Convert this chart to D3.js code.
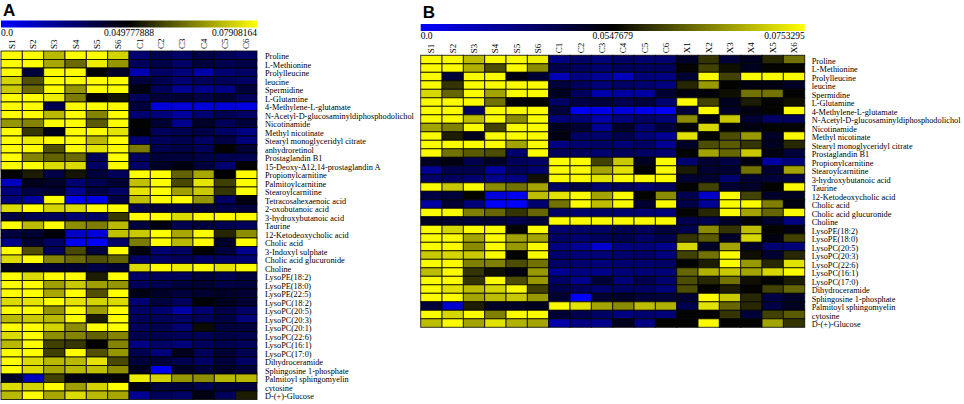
<!DOCTYPE html>
<html lang="en">
<head>
<meta charset="UTF-8">
<title>Metabolite heatmaps</title>
<script src="https://d3js.org/d3.v7.min.js"></script>
<style>
  body { margin: 0; background: #fff; }
  .lbl text { font-family: "Liberation Serif", "Times New Roman", serif; fill: #000; }
  .panel-letter { font-family: "Liberation Sans", Arial, sans-serif; font-weight: bold; font-size: 17px; }
</style>
</head>
<body>
<svg id="chart" width="964" height="404"></svg>
<script>
// ---- panel A data (cell values in 1e-3 units) ----
const colsA = ["S1", "S2", "S3", "S4", "S5", "S6", "C1", "C2", "C3", "C4", "C5", "C6"];
const rowsA = ["Proline", "L-Methionine", "Prolylleucine", "leucine", "Spermidine", "L-Glutamine",
  "4-Methylene-L-glutamate", "N-Acetyl-D-glucosaminyldiphosphodolichol", "Nicotinamide", "Methyl nicotinate",
  "Stearyl monoglyceridyl citrate", "anhydroretinol", "Prostaglandin B1", "15-Deoxy-\u039412,14-prostaglandin A",
  "Propionylcarnitine", "Palmitoylcarnitine", "Stearoylcarnitine", "Tetracosahexaenoic acid", "2-oxobutanoic acid",
  "3-hydroxybutanoic acid", "Taurine", "12-Ketodeoxycholic acid", "Cholic acid", "3-Indoxyl sulphate",
  "Cholic acid glucuronide", "Choline", "LysoPE(18:2)", "LysoPE(18:0)", "LysoPE(22:5)", "LysoPC(18:2)",
  "LysoPC(20:5)", "LysoPC(20:3)", "LysoPC(20:1)", "LysoPC(22:6)", "LysoPC(16:1)", "LysoPC(17:0)",
  "Dihydroceramide", "Sphingosine 1-phosphate", "Palmitoyl sphingomyelin", "cytosine", "D-(+)-Glucose"];
const valuesA = [
  [79,79,71,79,79,74,28,34,30,36,32,30],
  [79,79,69,62,77,67,32,36,30,38,34,36],
  [79,38,79,79,50,42,15,30,26,17,28,30],
  [74,59,79,79,79,79,38,34,28,32,32,30],
  [73,62,79,67,79,79,46,32,21,22,24,38],
  [79,79,77,64,50,52,32,38,40,36,40,32],
  [79,79,34,79,79,79,38,7,7,7,7,5],
  [79,79,71,79,65,79,28,26,19,28,34,30],
  [67,65,79,79,60,79,50,40,22,42,32,38],
  [79,56,44,79,79,76,48,32,34,36,30,24],
  [79,77,79,79,71,79,28,32,34,30,36,26],
  [79,79,59,79,76,79,64,34,36,32,50,40],
  [79,65,61,62,32,79,32,38,38,36,34,34],
  [79,79,75,75,30,79,30,42,46,38,28,50],
  [50,53,36,52,38,32,79,79,61,69,49,79],
  [13,44,42,28,34,40,72,79,58,76,57,79],
  [26,36,40,22,36,30,76,79,68,73,56,79],
  [26,19,79,3,5,36,72,79,79,67,30,46],
  [75,79,74,75,79,79,34,38,36,38,36,38],
  [36,34,32,28,30,56,79,79,75,79,79,79],
  [79,71,79,66,64,71,38,46,34,38,34,32],
  [38,40,48,11,7,72,73,79,69,79,54,66],
  [24,40,30,3,1,30,64,79,71,79,42,79],
  [79,59,32,58,38,79,47,28,30,50,38,22],
  [75,79,65,62,59,61,30,30,32,30,30,28],
  [44,42,40,40,36,40,75,79,77,79,76,79],
  [79,75,79,79,53,79,30,32,32,38,34,38],
  [79,79,68,73,68,67,32,34,38,40,36,38],
  [79,79,69,79,59,79,46,42,38,40,42,40],
  [75,76,79,76,74,75,28,38,32,50,44,40],
  [79,79,67,79,68,79,30,28,17,28,36,30],
  [71,73,71,79,53,79,32,32,30,32,36,26],
  [79,79,74,66,79,79,32,34,28,51,38,38],
  [75,79,66,65,61,65,34,34,32,32,36,34],
  [71,79,57,56,50,65,24,30,26,32,34,32],
  [79,79,57,79,59,67,34,26,44,32,40,34],
  [79,75,71,71,76,58,38,38,34,30,38,30],
  [79,75,69,71,72,66,44,3,42,38,42,38],
  [42,13,57,46,46,50,77,74,67,66,71,71],
  [75,74,79,68,74,79,46,38,38,34,38,38],
  [71,79,69,75,71,69,21,32,30,46,32,53]
];
const ticksA = [0, 0.049777888, 0.07908164];
const tickLabelsA = ["0.0", "0.049777888", "0.07908164"];

// ---- panel B data (cell values in 1e-3 units) ----
const colsB = ["S1", "S2", "S3", "S4", "S5", "S6", "C1", "C2", "C3", "C4", "C5", "C6",
  "X1", "X2", "X3", "X4", "X5", "X6"];
const rowsB = ["Proline", "L-Methionine", "Prolylleucine", "leucine", "Spermidine", "L-Glutamine",
  "4-Methylene-L-glutamate", "N-Acetyl-D-glucosaminyldiphosphodolichol", "Nicotinamide", "Methyl nicotinate",
  "Stearyl monoglyceridyl citrate", "Prostaglandin B1", "Propionylcarnitine", "Stearoylcarnitine",
  "3-hydroxybutanoic acid", "Taurine", "12-Ketodeoxycholic acid", "Cholic acid", "Cholic acid glucuronide",
  "Choline", "LysoPE(18:2)", "LysoPE(18:0)", "LysoPC(20:5)", "LysoPC(20:3)", "LysoPC(22:6)", "LysoPC(16:1)",
  "LysoPC(17:0)", "Dihydroceramide", "Sphingosine 1-phosphate", "Palmitoyl sphingomyelin", "cytosine",
  "D-(+)-Glucose"];
const valuesB = [
  [75,75,70,75,75,74,27,33,29,33,31,31,46,59,42,48,58,64],
  [75,75,69,61,75,66,38,35,31,35,35,35,55,60,56,48,55,55],
  [75,42,75,75,51,44,16,27,23,14,29,27,44,75,60,75,75,75],
  [75,59,75,75,75,75,42,35,29,33,31,27,58,67,55,51,51,46],
  [72,63,75,68,75,75,48,35,18,20,20,44,51,53,56,64,64,55],
  [75,75,75,64,53,55,33,40,42,38,42,31,75,60,48,57,55,56],
  [75,75,33,75,75,75,42,3,5,8,5,3,42,75,46,51,55,75],
  [75,75,70,75,66,75,29,29,18,27,33,29,66,51,71,44,33,35],
  [68,65,75,60,75,75,48,44,23,46,31,42,55,72,53,51,55,55],
  [75,57,48,75,75,75,51,33,31,38,29,23,73,55,61,67,46,75],
  [75,75,75,75,68,75,27,31,33,29,33,23,46,61,62,59,48,58],
  [75,64,62,61,31,75,35,35,31,35,33,31,55,68,63,71,51,42],
  [48,51,38,46,35,33,75,75,60,71,48,75,31,44,40,51,20,29],
  [23,38,38,20,35,31,75,75,68,73,55,75,57,44,44,64,44,68],
  [33,35,31,25,27,56,75,75,73,75,75,75,44,44,31,44,42,40],
  [75,71,75,66,64,68,33,40,31,35,31,35,55,60,44,46,55,75],
  [40,42,55,8,3,70,73,75,68,75,55,66,38,12,75,60,46,48],
  [20,44,29,1,0,31,64,75,70,75,44,75,40,23,75,75,65,51],
  [75,75,65,63,59,63,33,31,33,31,31,29,55,58,75,68,63,75],
  [46,44,42,42,38,42,75,75,75,75,75,75,38,38,46,52,44,27],
  [75,72,75,75,55,75,31,33,33,38,35,42,38,66,59,70,55,51],
  [75,75,68,75,68,68,33,31,35,38,33,38,59,62,46,72,51,60],
  [75,75,66,75,67,75,27,23,10,27,29,25,72,46,68,46,31,29],
  [71,72,71,75,55,75,31,29,29,31,33,27,60,64,75,56,44,58],
  [75,75,65,65,61,64,33,31,29,31,31,33,55,57,75,67,58,73],
  [70,75,59,56,51,67,23,27,25,29,29,29,63,69,71,68,72,75],
  [75,75,59,75,61,67,33,25,42,29,38,31,61,58,64,56,55,57],
  [75,73,70,72,75,60,38,35,31,33,33,29,61,55,57,55,60,63],
  [75,75,68,70,71,67,44,0,44,46,42,42,44,75,71,58,40,46],
  [42,10,57,46,46,48,75,73,68,66,70,69,38,73,63,58,40,48],
  [75,72,75,65,75,75,44,38,33,27,31,29,55,55,59,42,60,62],
  [70,75,68,73,69,68,18,27,25,48,27,55,55,75,55,55,68,59]
];
const ticksB = [0, 0.0547679, 0.0753295];
const tickLabelsB = ["0.0", "0.0547679", "0.0753295"];

const colorStops = ["#0000ff", "#000000", "#ffff00"];

const svg = d3.select("#chart");
const defs = svg.append("defs");

function drawPanel(p) {
  const g = svg.append("g");

  // panel letter
  g.append("text").attr("class", "panel-letter")
    .attr("x", p.x0 + 2).attr("y", p.letterY).text(p.letter);

  const x = d3.scaleBand().domain(p.cols).range([p.x0, p.x1]);
  const y = d3.scaleBand().domain(p.rows).range([p.y0, p.y0 + p.rows.length * 8.5]);
  const color = d3.scaleLinear()
    .domain(p.ticks.map(t => t * 1000))
    .range(colorStops)
    .clamp(true);

  // legend bar
  const gradId = "grad" + p.letter;
  const grad = defs.append("linearGradient").attr("id", gradId);
  grad.selectAll("stop").data(colorStops).enter().append("stop")
    .attr("offset", (d, i) => i / (colorStops.length - 1))
    .attr("stop-color", d => d);
  g.append("rect")
    .attr("x", p.x0).attr("y", p.barY)
    .attr("width", p.x1 - p.x0).attr("height", 7)
    .attr("fill", `url(#${gradId})`);

  // legend tick labels (blue-black-yellow spread evenly over the bar)
  const lx = d3.scalePoint().domain(p.tickLabels).range([p.x0, p.x1]);
  g.append("g").attr("class", "lbl")
    .selectAll("text").data(p.tickLabels).enter().append("text")
    .attr("x", d => lx(d))
    .attr("y", p.barY + 15)
    .attr("text-anchor", (d, i) => i === 0 ? "start" : (i === p.tickLabels.length - 1 ? "end" : "middle"))
    .style("font-size", "9.5px")
    .text(d => d);

  // column labels
  const colAxis = g.append("g").attr("class", "lbl")
    .attr("transform", `translate(0,${p.y0 - 1})`)
    .call(d3.axisTop(x).tickSize(0).tickPadding(0));
  colAxis.select(".domain").remove();
  colAxis.selectAll("text")
    .attr("transform", "rotate(-90)")
    .attr("x", 1).attr("y", 0).attr("dy", "0.32em")
    .attr("text-anchor", "start")
    .style("font-size", "9px");

  // cells
  const cells = [];
  p.values.forEach((row, ri) => row.forEach((v, ci) => cells.push({ r: p.rows[ri], c: p.cols[ci], v })));
  g.append("g").selectAll("rect").data(cells).enter().append("rect")
    .attr("x", d => x(d.c))
    .attr("y", d => y(d.r))
    .attr("width", x.bandwidth())
    .attr("height", y.bandwidth())
    .attr("fill", d => color(d.v))
    .attr("stroke", "#000")
    .attr("stroke-opacity", 0.8)
    .attr("stroke-width", 1);

  // row labels
  const rowAxis = g.append("g").attr("class", "lbl")
    .attr("transform", `translate(${p.x1 + p.labelGap},0)`)
    .call(d3.axisRight(y).tickSize(0).tickPadding(0));
  rowAxis.select(".domain").remove();
  rowAxis.selectAll("text").style("font-size", "8.3px").attr("dy", "0.5em");
}

drawPanel({
  letter: "A", letterY: 16, x0: 1, x1: 257, y0: 51, barY: 20.5, labelGap: 8,
  cols: colsA, rows: rowsA, values: valuesA, ticks: ticksA, tickLabels: tickLabelsA
});
drawPanel({
  letter: "B", letterY: 18, x0: 420.7, x1: 804.7, y0: 55.3, barY: 24, labelGap: 7,
  cols: colsB, rows: rowsB, values: valuesB, ticks: ticksB, tickLabels: tickLabelsB
});
</script>
</body>
</html>
